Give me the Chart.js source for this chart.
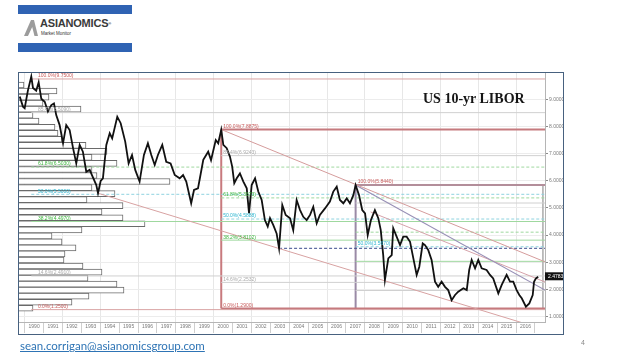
<!DOCTYPE html>
<html><head><meta charset="utf-8">
<script src="https://cdn.jsdelivr.net/npm/chart.js@4"></script>
<style>
html,body{margin:0;padding:0;background:#fff;}
body{width:638px;height:359px;overflow:hidden;position:relative;font-family:"Liberation Sans",Arial,sans-serif;}
#c{position:absolute;left:0;top:0;}
#frame{position:absolute;left:18px;top:72px;width:544px;height:261px;border:1px solid #47617f;pointer-events:none;}
.lb{position:absolute;left:18px;width:114px;height:9px;background:#2f63b3;}
#brand{position:absolute;left:40px;top:18px;font:bold 11px "Liberation Sans Narrow","Liberation Sans",Arial,sans-serif;color:#3a3a3a;letter-spacing:-0.2px;line-height:11px;}
#brand sup{font-size:4px;vertical-align:top;}
#mm{position:absolute;left:41px;top:31px;font:4.5px "Liberation Sans",Arial,sans-serif;color:#333;line-height:5px;}
#icon{position:absolute;left:23px;top:19px;}
#title{position:absolute;left:423px;top:92px;font:bold 14px "Liberation Serif","Times New Roman",serif;color:#151515;line-height:14px;white-space:nowrap;}
#mail{position:absolute;left:20px;top:339px;font:11.5px Lato,"Liberation Sans",sans-serif;color:#2e74b5;text-decoration:underline;line-height:13px;white-space:nowrap;}
#pg{position:absolute;left:581px;top:339px;font:7px "Liberation Sans",Arial,sans-serif;color:#8a8a8a;}
</style></head>
<body>
<div class="lb" style="top:5px"></div>
<div class="lb" style="top:43px"></div>
<svg id="icon" width="16" height="18" viewBox="0 0 16 18"><polygon points="1,17 8,1 11,1 15,17 11.5,17 9.2,8 5,17" fill="#9c9c9c"/></svg>
<div id="brand">ASIANOMICS<sup>®</sup></div>
<div id="mm">Market Monitor</div>
<canvas id="c" width="638" height="359"></canvas>
<div id="frame"></div>
<div id="title">US 10-yr LIBOR</div>
<div id="mail">sean.corrigan@asianomicsgroup.com</div>
<div id="pg">4</div>
<script>
// ---- price series (decimal year, rate %) ----
const priceDates = [1989.74,1989.91,1990.00,1990.17,1990.35,1990.44,1990.61,1990.74,1990.88,1991.06,1991.23,1991.41,1991.55,1991.67,1991.85,1992.03,1992.20,1992.38,1992.56,1992.73,1992.91,1993.08,1993.26,1993.44,1993.56,1993.79,1993.88,1994.02,1994.14,1994.32,1994.50,1994.63,1994.90,1995.08,1995.32,1995.50,1995.68,1995.85,1996.08,1996.31,1996.52,1996.70,1996.88,1997.05,1997.28,1997.49,1997.72,1997.94,1998.20,1998.38,1998.55,1998.81,1998.96,1999.17,1999.27,1999.45,1999.71,1999.86,2000.11,2000.24,2000.40,2000.51,2000.69,2000.86,2000.98,2001.09,2001.22,2001.39,2001.57,2001.75,2001.87,2002.01,2002.19,2002.36,2002.54,2002.71,2002.86,2002.98,2003.15,2003.33,2003.46,2003.63,2003.81,2004.04,2004.21,2004.39,2004.57,2004.74,2004.92,2005.10,2005.27,2005.45,2005.62,2005.89,2006.15,2006.33,2006.51,2006.68,2006.86,2007.04,2007.21,2007.39,2007.51,2007.69,2007.86,2008.01,2008.15,2008.32,2008.53,2008.71,2008.84,2008.97,2009.06,2009.24,2009.42,2009.50,2009.68,2009.86,2010.03,2010.21,2010.39,2010.53,2010.74,2010.88,2011.06,2011.18,2011.35,2011.53,2011.71,2011.88,2012.06,2012.24,2012.41,2012.59,2012.77,2012.94,2013.21,2013.39,2013.52,2013.65,2013.83,2014.00,2014.18,2014.44,2014.62,2014.79,2015.06,2015.24,2015.50,2015.68,2015.85,2016.03,2016.17,2016.30,2016.52,2016.70,2016.88,2016.95,2017.05,2017.17];
const priceRates = [9.10,8.73,8.67,9.32,9.84,9.42,9.32,9.63,9.02,8.91,8.55,8.79,8.85,8.42,8.05,7.38,8.05,7.87,7.20,6.64,7.32,7.07,6.33,6.40,6.21,5.84,5.54,5.99,6.09,7.32,7.75,7.56,8.36,8.12,7.44,6.64,6.95,6.40,5.97,6.95,7.38,6.95,6.58,6.95,7.32,6.70,6.64,6.21,6.09,6.21,5.97,5.17,5.66,5.72,6.09,6.77,7.07,6.76,7.50,7.38,7.88,7.32,7.20,6.89,6.52,5.91,6.09,6.27,5.97,5.72,4.80,5.84,6.09,5.60,5.29,4.55,4.31,4.62,4.37,4.06,3.51,5.11,4.74,4.62,4.18,5.29,4.92,4.67,4.55,4.74,5.04,4.43,4.74,4.98,5.23,5.60,5.78,5.29,5.17,5.35,5.17,5.47,5.84,5.47,4.92,4.80,4.00,4.55,4.92,4.62,4.18,3.26,2.34,3.14,3.26,4.25,3.94,3.63,3.94,3.94,3.75,3.26,2.53,2.83,3.69,3.63,3.45,3.08,2.28,2.09,2.28,2.09,1.97,1.60,1.79,1.91,2.04,1.97,2.71,3.08,2.77,3.08,2.77,2.71,2.53,2.40,1.85,2.16,2.53,2.28,2.28,1.97,1.79,1.67,1.36,1.48,1.79,2.28,2.40,2.46];
const lastQuote = 2.4783;

// ---- volume-at-price profile (bin centre rate, relative volume) ----
const volumeLevels = [1.411,1.634,1.856,2.078,2.301,2.523,2.745,2.968,3.190,3.413,3.635,3.857,4.080,4.302,4.524,4.747,4.969,5.192,5.414,5.636,5.859,6.081,6.303,6.526,6.748,6.971,7.193,7.415,7.638,7.860,8.082,8.305,8.527,8.750,8.972,9.194,9.417,9.639];
const volumeAmounts = [14,53,70,105,98,69,83,64,45,46,57,43,33,63,126,104,83,104,68,96,73,151,78,73,98,73,88,67,43,39,36,20,14,62,24,30,38,5];

// ---- Fibonacci retracement sets ----
const fibPctLabels = ['100.0%','85.4%','61.8%','50.0%','38.2%','14.6%','0.0%'];
const fibALevels = [9.7500,8.5090,6.5030,5.5000,4.4970,2.4910,1.2500];
const fibBLevels = [7.8875,6.9243,5.3673,4.5888,3.8102,2.2532,1.2900];
const fibCLevels = [5.8440,5.1791,4.1044,3.5670,3.0296,1.9549,1.2900];
const fibStarts = [1990.35, 2000.40, 2007.51];
const fibLabelAt = [1990.70, 2000.50, 2007.62];
const fibEnd = 2017.53;

// ---- trend lines & support ----
const upperTrend = [[2000.40,7.8875],[2017.53,3.01]];
const peakTrendP = [[2007.51,5.844],[2017.53,1.97]];
const peakTrendQ = [[2008.30,4.85],[2017.53,2.27]];
const lowerTrend = [[1993.88,5.54],[2017.53,0.51]];
const support2003 = [[2003.46,3.51],[2017.53,3.51]];
const boxBLeft = [[2000.40,1.29],[2000.40,7.8875]];
const boxCLeft = [[2007.51,1.29],[2007.51,5.844]];
const boxCRight = [[2017.42,1.29],[2017.42,5.844]];

// ---- axes ----
const yTicks = [1,2,3,4,5,6,7,8,9];
const firstYear = 1990, lastYear = 2016;

const pts = a => a.map(p => ({x:p[0], y:p[1]}));
const seg = (data, color, width, dash, order) => ({type:'line', data:pts(data), borderColor:color, borderWidth:width, borderDash:dash||[], pointRadius:0, fill:false, tension:0, order:order, xAxisID:'x', yAxisID:'y'});

const datasets = [];
datasets.push({type:'line', data:priceDates.map((d,i)=>({x:d,y:priceRates[i]})), borderColor:'#111111', borderWidth:1.8, borderJoinStyle:'miter', pointRadius:0, tension:0, fill:false, order:0, xAxisID:'x', yAxisID:'y'});
datasets.push(seg(upperTrend,'#d59c9c',1,null,1));
datasets.push(seg(peakTrendP,'#9890b6',1.2,null,1));
datasets.push(seg(peakTrendQ,'#d6a2aa',1,null,1));
datasets.push(seg(lowerTrend,'#d8a2a2',1,null,1));
datasets.push(seg(support2003,'#3a4a8c',1,[3,2],1));

const lvlColor = ['#d9a3a3','#d0d0d0','#9fd89f','#8fd3e0','#9fd89f','#d0d0d0','#d9a3a3'];
const lvlDash = [null,null,[3,2],[3,2],null,null,null];
const labelColor = ['#c85a5a','#ababab','#3cb43c','#2cb5cf','#3cb43c','#ababab','#c85a5a'];
const fibSets = [
  {levels:fibALevels, start:fibStarts[0], labelAt:fibLabelAt[0], show:[1,1,1,1,1,1,1]},
  {levels:fibBLevels, start:fibStarts[1], labelAt:fibLabelAt[1], show:[1,1,1,1,1,1,1]},
  {levels:fibCLevels, start:fibStarts[2], labelAt:fibLabelAt[2], show:[1,0,0,1,0,0,0]}
];
fibSets.forEach((s,si) => {
  s.levels.forEach((lv,i) => {
    if (si===2 && i===6) return;
    let col = lvlColor[i], w = 1;
    if (si===1 && (i===0||i===6)) { col = '#c57a7e'; w = 2; }
    if (si===2 && i===0) { col = '#b38e9a'; w = 2; }
    datasets.push(seg([[s.start,lv],[fibEnd,lv]], col, w, lvlDash[i], 2));
  });
});
datasets.push(seg(boxBLeft,'#c87a7e',2,null,2));
datasets.push(seg(boxCLeft,'#9a8aa6',2,null,2));
datasets.push(seg(boxCRight,'#aaaaaa',1.5,null,2));

datasets.push({type:'bar', indexAxis:'y', data:volumeLevels.map((v,i)=>({x:volumeAmounts[i], y:v})), backgroundColor:'#ffffff', borderColor:'#6a6a6a', borderWidth:1, barThickness:6, order:10, xAxisID:'xv', yAxisID:'y'});

const labelPlugin = {
  id:'fibLabels',
  afterDatasetsDraw(chart){
    const {ctx, scales:{x,y}, chartArea} = chart;
    ctx.save();
    ctx.font = '5px "Liberation Sans", Arial, sans-serif';
    ctx.textBaseline = 'bottom';
    ctx.textAlign = 'left';
    fibSets.forEach(s => {
      s.levels.forEach((lv,i) => {
        if (!s.show[i]) return;
        ctx.fillStyle = labelColor[i];
        ctx.fillText(fibPctLabels[i]+'('+lv.toFixed(4)+')', x.getPixelForValue(s.labelAt), y.getPixelForValue(lv)-0.5);
      });
    });
    const py = y.getPixelForValue(lastQuote);
    ctx.fillStyle = '#111';
    ctx.fillRect(chartArea.right, py-4, 18, 8);
    ctx.fillStyle = '#fff';
    ctx.textBaseline = 'middle';
    ctx.fillText(lastQuote.toFixed(4), chartArea.right+3, py+0.5);
    ctx.restore();
  }
};

new Chart(document.getElementById('c'), {
  type:'line',
  data:{datasets},
  options:{
    responsive:false, animation:false, devicePixelRatio:1,
    layout:{padding:{left:19, top:73, right:75, bottom:26}},
    plugins:{legend:{display:false}, tooltip:{enabled:false}},
    scales:{
      x:{type:'linear', position:'bottom', min:1989.70, max:2017.53, offset:false,
        afterBuildTicks:s => { const t=[]; for(let yr=firstYear; yr<=lastYear+1; yr++){ t.push({value:yr}); if(yr<=lastYear) t.push({value:yr+0.5}); } s.ticks=t; },
        afterFit:s => { s.height = 11; },
        ticks:{autoSkip:false, maxRotation:0, minRotation:0, padding:-9, color:'#7a7a7a', font:{size:5, family:'"Liberation Sans", Arial'},
          callback:v => Number.isInteger(v) ? '' : String(Math.floor(v))},
        grid:{offset:false, tickLength:11, lineWidth:1,
          color:c => (c.tick && Number.isInteger(c.tick.value) && c.tick.value%2===0) ? '#e7e7e7' : 'rgba(0,0,0,0)',
          tickColor:c => (c.tick && Number.isInteger(c.tick.value)) ? '#cfcfcf' : 'rgba(0,0,0,0)'},
        border:{display:true, color:'#b5b5b5'}
      },
      y:{type:'linear', position:'right', min:0.794, max:9.97, offset:false,
        afterBuildTicks:s => { s.ticks = yTicks.map(v=>({value:v})); },
        afterFit:s => { s.width = 18; },
        ticks:{padding:1, color:'#7a7a7a', font:{size:5, family:'"Liberation Sans", Arial'}, callback:v => Number(v).toFixed(4)},
        grid:{offset:false, color:'#ececec', tickColor:'#8a8a8a', tickLength:3},
        border:{display:true, color:'#b5b5b5'}
      },
      xv:{type:'linear', display:false, min:0, max:526, offset:false}
    }
  },
  plugins:[labelPlugin]
});
</script>
</body></html>
